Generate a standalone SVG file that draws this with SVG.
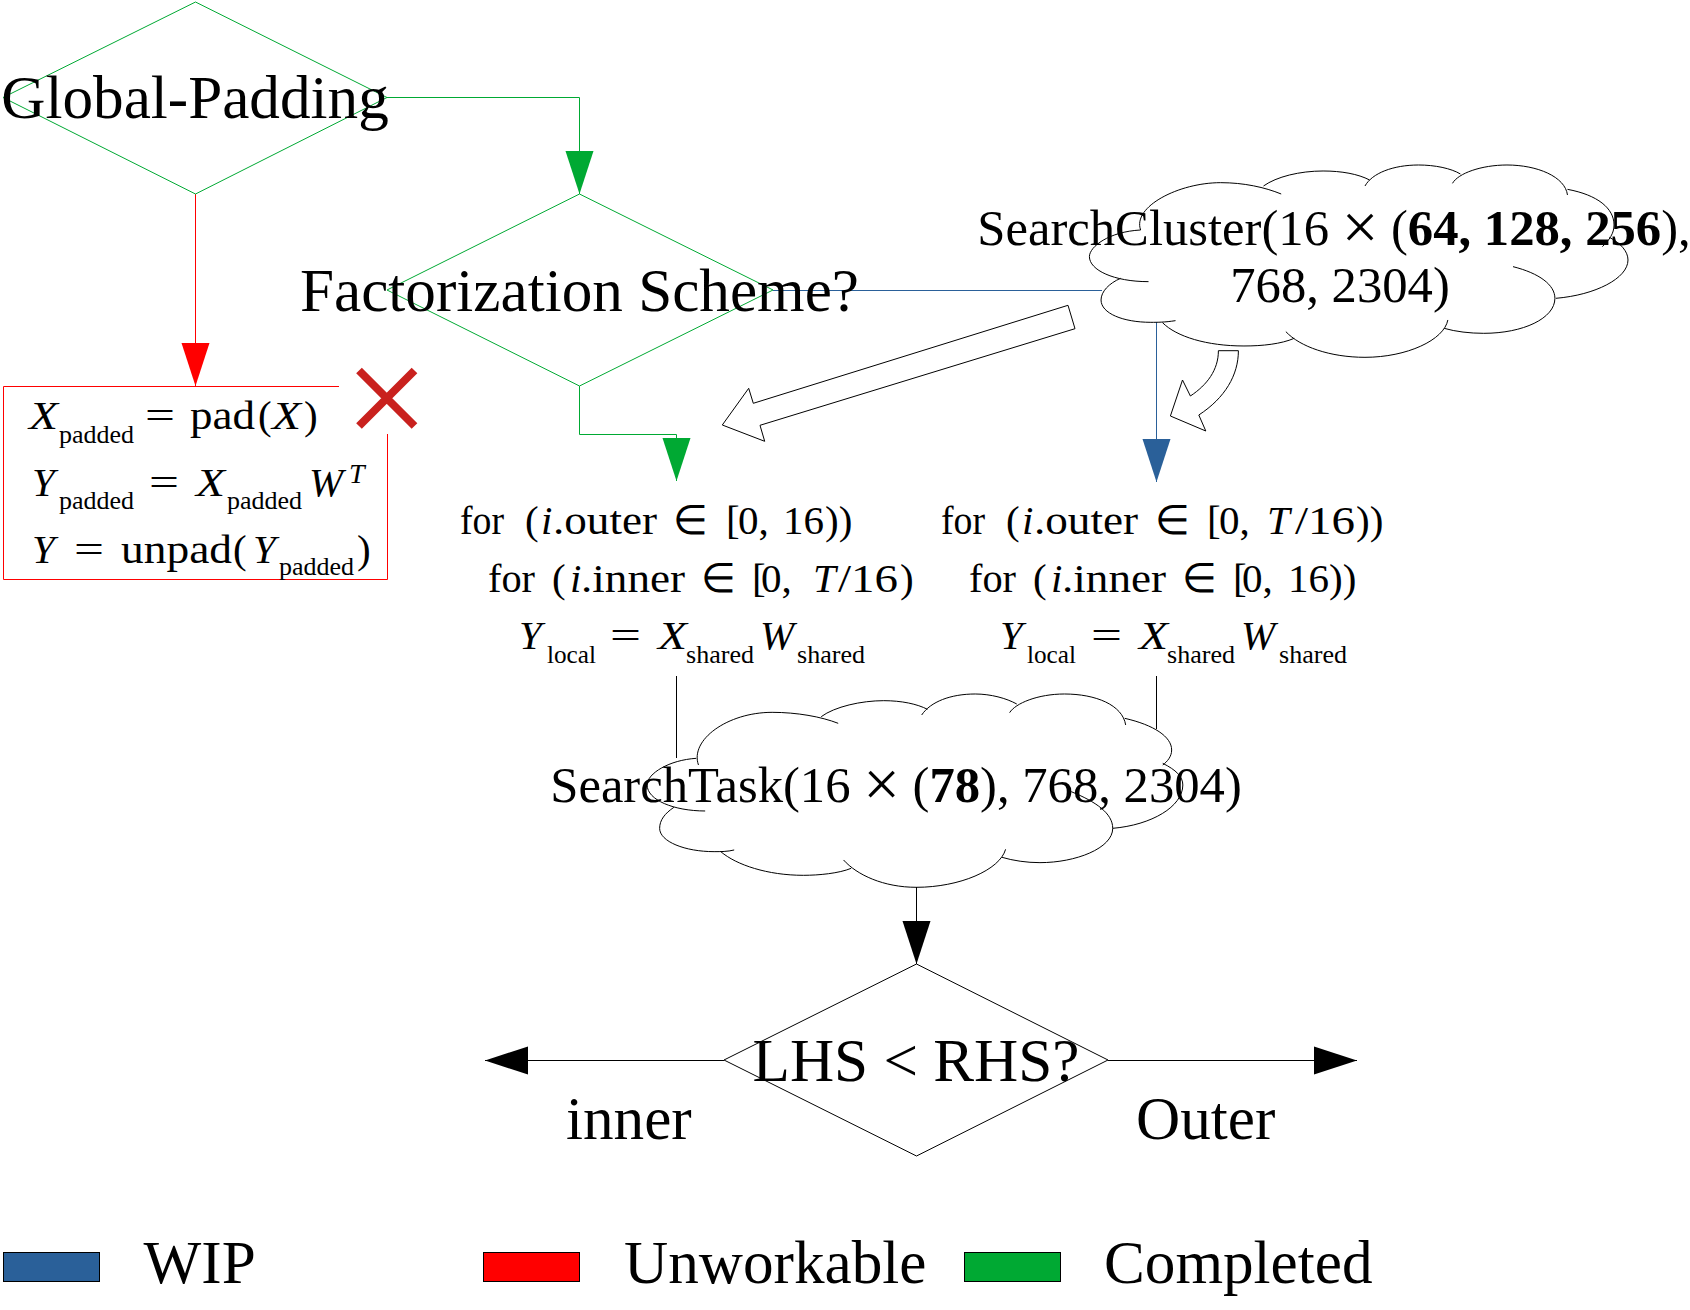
<svg xmlns="http://www.w3.org/2000/svg" width="1690" height="1310" viewBox="0 0 1690 1310">
<style>
text{font-family:"Liberation Serif","Times New Roman",serif;fill:#000}
.big{font-size:61.2px}
.mid{font-size:50.67px;text-anchor:middle}
.c{text-anchor:middle}
.b{font-weight:bold}
.m{font-size:41px}
.i{font-style:italic}
.s{font-size:26px}
.sup{font-size:28px;font-style:italic}
.x{font-size:65px}
.g{fill:none;stroke:#00a933;stroke-width:1}
.r{fill:none;stroke:#f00;stroke-width:1}
.bl{fill:none;stroke:#2a6099;stroke-width:1}
.k{fill:none;stroke:#000;stroke-width:1}
.cloud path{fill:none;stroke:#000;stroke-width:1;vector-effect:non-scaling-stroke}
.hollow{fill:#fff;stroke:#000;stroke-width:1}
.leg{stroke:#000;stroke-width:1}
</style>
<defs>
<marker id="hg" markerUnits="userSpaceOnUse" markerWidth="44" markerHeight="30" refX="43" refY="15" orient="auto"><path d="M0,1L43,15L0,29Z" fill="#00a933"/></marker>
<marker id="hr" markerUnits="userSpaceOnUse" markerWidth="44" markerHeight="30" refX="43" refY="15" orient="auto"><path d="M0,1L43,15L0,29Z" fill="#f00"/></marker>
<marker id="hb" markerUnits="userSpaceOnUse" markerWidth="44" markerHeight="30" refX="43" refY="15" orient="auto"><path d="M0,1L43,15L0,29Z" fill="#2a6099"/></marker>
<marker id="hk" markerUnits="userSpaceOnUse" markerWidth="44" markerHeight="30" refX="43" refY="15" orient="auto"><path d="M0,1L43,15L0,29Z" fill="#000"/></marker>
</defs>

<g id="connectors">
<path class="g" d="M387,97.5H579.5V194" marker-end="url(#hg)"/>
<path class="g" d="M579.5,386V434.5H676.5V481" marker-end="url(#hg)"/>
<path class="r" d="M195.5,194V386" marker-end="url(#hr)"/>
<path class="bl" d="M773,290.5H1102"/>
<path class="bl" d="M1156.5,322V482" marker-end="url(#hb)"/>
<path class="k" d="M676.5,676V758"/>
<path class="k" d="M1156.5,676V729"/>
<path class="k" d="M916.5,887V964" marker-end="url(#hk)"/>
<path class="k" d="M724,1060.5H485" marker-end="url(#hk)"/>
<path class="k" d="M1108,1060.5H1357" marker-end="url(#hk)"/>
</g>

<g id="node-global-padding">
<polygon class="g" points="195.5,2 387,97.5 195.5,194 3,97.5"/>
<text class="big" x="195" y="118" text-anchor="middle">Global-Padding</text>
</g>

<g id="node-factorization">
<polygon class="g" points="579.5,194 773,290 579.5,386 387,290"/>
<text class="big" x="579.5" y="311" text-anchor="middle">Factorization Scheme?</text>
</g>

<g id="node-padding-box">
<path class="r" d="M339,386.5H3.5V579.5H387.5V434"/>
<text class="m i" x="29" y="429" textLength="29" lengthAdjust="spacingAndGlyphs">X</text>
<text class="s" x="59" y="443" textLength="75" lengthAdjust="spacingAndGlyphs">padded</text>
<text class="m" x="145" y="429" textLength="30" lengthAdjust="spacingAndGlyphs">=</text>
<text class="m" x="190" y="429" textLength="65" lengthAdjust="spacingAndGlyphs">pad</text>
<text class="m" x="258" y="429">(</text>
<text class="m i" x="272" y="429" textLength="29" lengthAdjust="spacingAndGlyphs">X</text>
<text class="m" x="304" y="429">)</text>

<text class="m i" x="32" y="496">Y</text>
<text class="s" x="59" y="509" textLength="75" lengthAdjust="spacingAndGlyphs">padded</text>
<text class="m" x="149" y="496" textLength="30" lengthAdjust="spacingAndGlyphs">=</text>
<text class="m i" x="196" y="496" textLength="29" lengthAdjust="spacingAndGlyphs">X</text>
<text class="s" x="227" y="509" textLength="75" lengthAdjust="spacingAndGlyphs">padded</text>
<text class="m i" x="309" y="496">W</text>
<text class="sup" x="349" y="483">T</text>

<text class="m i" x="32" y="563">Y</text>
<text class="m" x="74" y="563" textLength="30" lengthAdjust="spacingAndGlyphs">=</text>
<text class="m" x="121" y="563" textLength="111" lengthAdjust="spacingAndGlyphs">unpad</text>
<text class="m" x="233" y="563">(</text>
<text class="m i" x="253" y="563">Y</text>
<text class="s" x="279" y="575" textLength="75" lengthAdjust="spacingAndGlyphs">padded</text>
<text class="m" x="357" y="563">)</text>
</g>

<g id="node-cross">
<path d="M359,370.5L414.5,426M414.5,370.5L359,426" fill="none" stroke="#c9211e" stroke-width="8"/>
</g>

<g id="node-searchcluster">
<g class="cloud" transform="translate(960,150) scale(.4655,.3333)">
<path d="M405,395C330,395 278,360 278,320C278,290 320,245 388,240"/>
<path d="M388,240C370,170 470,98 560,98C610,98 655,112 690,132"/>
<path d="M652,108C680,80 730,63 780,63C820,63 855,72 880,90"/>
<path d="M870,108C885,70 930,45 985,45C1020,45 1055,55 1075,72"/>
<path d="M1058,100C1070,70 1120,45 1175,45C1240,45 1300,80 1305,135"/>
<path d="M1305,118C1370,135 1405,175 1405,225C1405,250 1395,270 1380,290"/>
<path d="M1395,262C1420,280 1435,305 1435,330C1435,385 1365,435 1280,445"/>
<path d="M1188,350C1245,370 1278,405 1278,445C1278,505 1210,550 1125,550C1095,550 1065,545 1040,535"/>
<path d="M1048,510C1040,570 960,622 870,622C795,622 730,590 700,545"/>
<path d="M718,565C690,582 650,588 610,588C530,588 465,560 435,518"/>
<path d="M463,512C440,517 425,517 410,517C350,517 303,490 303,450C303,425 320,400 345,385"/>
</g>
<text class="mid" x="1334" y="245">SearchCluster(16 <tspan class="x" dy="4">×</tspan><tspan dy="-4"> (</tspan><tspan class="b">64, 128, 256</tspan>),</text>
<text class="mid" x="1340" y="302">768, 2304)</text>
</g>

<g id="arrow-straight">
<polygon class="hollow" points="1068,305.3 1075,328.7 760,425.3 764.7,441.3 722.3,425 748.7,388.3 753.3,403.3"/>
</g>
<g id="arrow-curved">
<path class="hollow" d="M1218.4,350.7H1238.4C1238.4,375 1225,398 1198.8,415L1205.8,431L1170.4,416L1182.5,380L1190.4,396C1207,385 1218.4,370 1218.4,350.7Z"/>
</g>

<g id="node-for-left">
<text class="m" x="460" y="534" textLength="44" lengthAdjust="spacingAndGlyphs">for</text>
<text class="m" x="525" y="534">(</text>
<text class="m i" x="541" y="534">i</text>
<text class="m" x="553" y="534" textLength="104" lengthAdjust="spacingAndGlyphs">.outer</text>
<text class="m" x="673" y="534" textLength="35" lengthAdjust="spacingAndGlyphs">∈</text>
<text class="m" x="726" y="534">[</text>
<text class="m" x="738" y="534">0,</text>
<text class="m" x="783" y="534">16</text>
<text class="m" x="825" y="534">))</text>
<text class="m" x="488" y="592" textLength="47" lengthAdjust="spacingAndGlyphs">for</text>
<text class="m" x="552" y="592">(</text>
<text class="m i" x="570" y="592">i</text>
<text class="m" x="581" y="592" textLength="104" lengthAdjust="spacingAndGlyphs">.inner</text>
<text class="m" x="701" y="592" textLength="35" lengthAdjust="spacingAndGlyphs">∈</text>
<text class="m" x="752" y="592">[</text>
<text class="m" x="761" y="592">0,</text>
<text class="m i" x="813" y="592">T</text>
<text class="m" x="838" y="592" textLength="60" lengthAdjust="spacingAndGlyphs">/16</text>
<text class="m" x="900" y="592">)</text>
<text class="m i" x="519" y="649">Y</text>
<text class="s" x="547" y="663" textLength="49" lengthAdjust="spacingAndGlyphs">local</text>
<text class="m" x="610" y="649" textLength="31" lengthAdjust="spacingAndGlyphs">=</text>
<text class="m i" x="658" y="649" textLength="29" lengthAdjust="spacingAndGlyphs">X</text>
<text class="s" x="686" y="663" textLength="68" lengthAdjust="spacingAndGlyphs">shared</text>
<text class="m i" x="760" y="649">W</text>
<text class="s" x="797" y="663" textLength="68" lengthAdjust="spacingAndGlyphs">shared</text>
</g>

<g id="node-for-right">
<text class="m" x="941" y="534" textLength="44" lengthAdjust="spacingAndGlyphs">for</text>
<text class="m" x="1006" y="534">(</text>
<text class="m i" x="1022" y="534">i</text>
<text class="m" x="1034" y="534" textLength="104" lengthAdjust="spacingAndGlyphs">.outer</text>
<text class="m" x="1155" y="534" textLength="35" lengthAdjust="spacingAndGlyphs">∈</text>
<text class="m" x="1207" y="534">[</text>
<text class="m" x="1219" y="534">0,</text>
<text class="m i" x="1267" y="534">T</text>
<text class="m" x="1295" y="534" textLength="60" lengthAdjust="spacingAndGlyphs">/16</text>
<text class="m" x="1356" y="534">))</text>
<text class="m" x="969" y="592" textLength="47" lengthAdjust="spacingAndGlyphs">for</text>
<text class="m" x="1033" y="592">(</text>
<text class="m i" x="1051" y="592">i</text>
<text class="m" x="1062" y="592" textLength="104" lengthAdjust="spacingAndGlyphs">.inner</text>
<text class="m" x="1182" y="592" textLength="35" lengthAdjust="spacingAndGlyphs">∈</text>
<text class="m" x="1233" y="592">[</text>
<text class="m" x="1242" y="592">0,</text>
<text class="m" x="1288" y="592">16</text>
<text class="m" x="1329" y="592">))</text>
<text class="m i" x="1000" y="649">Y</text>
<text class="s" x="1027" y="663" textLength="49" lengthAdjust="spacingAndGlyphs">local</text>
<text class="m" x="1091" y="649" textLength="31" lengthAdjust="spacingAndGlyphs">=</text>
<text class="m i" x="1139" y="649" textLength="29" lengthAdjust="spacingAndGlyphs">X</text>
<text class="s" x="1167" y="663" textLength="68" lengthAdjust="spacingAndGlyphs">shared</text>
<text class="m i" x="1241" y="649">W</text>
<text class="s" x="1279" y="663" textLength="68" lengthAdjust="spacingAndGlyphs">shared</text>
</g>

<g id="node-searchtask">
<g class="cloud" transform="translate(540,670) scale(.4464,.3333)">
<path d="M370,423C300,423 240,390 240,345C240,310 290,270 350,265"/>
<path d="M355,285C335,210 420,127 520,127C575,127 630,140 668,160"/>
<path d="M630,140C660,110 720,92 770,92C810,92 845,102 868,118"/>
<path d="M855,135C875,95 920,72 975,72C1010,72 1045,85 1068,102"/>
<path d="M1052,128C1065,100 1115,72 1175,72C1245,72 1305,105 1312,165"/>
<path d="M1310,145C1375,165 1415,200 1415,240C1415,260 1405,275 1395,285"/>
<path d="M1395,280C1425,300 1440,320 1440,345C1440,410 1370,465 1283,475"/>
<path d="M1190,365C1245,395 1283,430 1283,475C1283,535 1200,578 1120,578C1090,578 1060,572 1035,562"/>
<path d="M1043,538C1030,600 940,652 843,652C770,652 710,615 680,570"/>
<path d="M697,595C670,610 625,616 590,616C510,616 440,585 405,545"/>
<path d="M435,540C420,545 405,545 390,545C325,545 268,515 268,475C268,450 280,430 300,412"/>
</g>
<text class="mid" x="896" y="802">SearchTask(16 <tspan class="x" dy="4">×</tspan><tspan dy="-4"> (</tspan><tspan class="b">78</tspan>), 768, 2304)</text>
</g>

<g id="node-lhs-rhs">
<polygon class="k" points="916.5,964 1108,1060 916.5,1156 724,1060"/>
<text class="big" x="916" y="1081" text-anchor="middle">LHS &lt; RHS?</text>
</g>
<text class="big" x="566" y="1139">inner</text>
<text class="big" x="1136" y="1139">Outer</text>

<g id="legend-wip"><rect class="leg" x="3.5" y="1252.5" width="96" height="29" fill="#2a6099"/><text class="big" x="143.5" y="1283">WIP</text></g>
<g id="legend-unworkable"><rect class="leg" x="483.5" y="1252.5" width="96" height="29" fill="#f00"/><text class="big" x="624" y="1283">Unworkable</text></g>
<g id="legend-completed"><rect class="leg" x="964.5" y="1252.5" width="96" height="29" fill="#00a933"/><text class="big" x="1104" y="1283">Completed</text></g>
</svg>
